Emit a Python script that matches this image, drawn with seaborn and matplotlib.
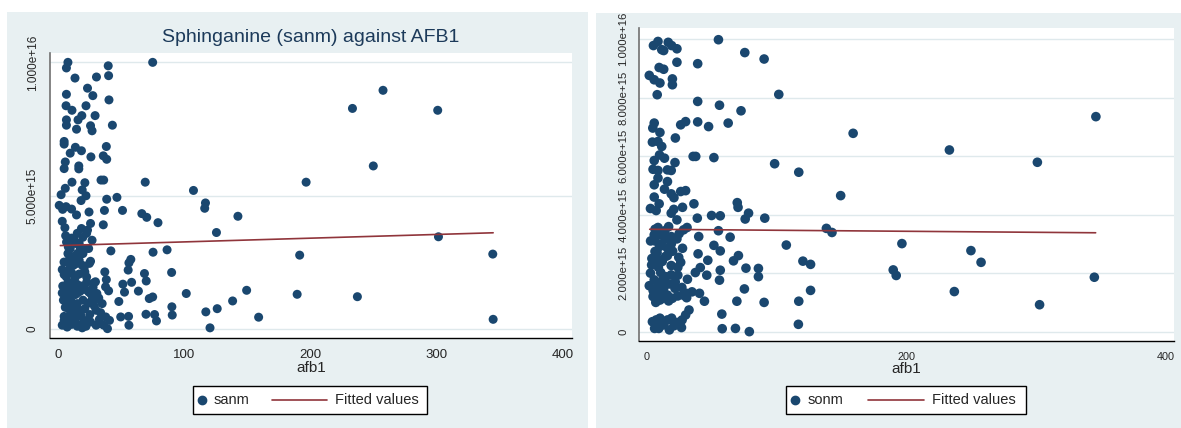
import numpy as np
import pandas as pd
import matplotlib
matplotlib.use("Agg")
import matplotlib.pyplot as plt
from matplotlib.patches import Rectangle
from matplotlib.lines import Line2D
import seaborn as sns

# ---------------- data (y in units of 1e15) ----------------
sanm_x = [75.2, 257.6, 233.4, 300.9, 249.9, 196.7, 69.3, 107.5, 117, 116.4, 142.7, 66.6, 70.5, 79.4,
          125.7, 301.5, 86.6, 75.5, 191.6, 344.5, 90.2, 68.7, 70.1, 58.5, 56.4, 57.9, 55.8, 51.6, 63.9,
          52.9, 48.4, 75.2, 72.5, 101.8, 149.6, 189.6, 237.3, 138.5, 90.4, 90.7, 126.3, 117.3, 159.1,
          344.8, 120.6, 69.9, 76.7, 78.2, 49.9, 56.1, 56.4, 46.9, 51.3, 42.1, 43.3, 40.6, 40, 40.3, 38.5,
          38.8, 36.1, 36.4, 34.3, 38.8, 37, 36.1, 30.7, 23.6, 27.8, 29.6, 22.4, 26, 27.2, 26.3, 21.5,
          22.4, 19.4, 18.5, 24.8, 26, 23.6, 27.2, 26, 28.7, 8.1, 6.9, 13.7, 6.9, 6.6, 11.3, 6.9, 6.9,
          16.1, 14.9, 19.1, 5.1, 5.1, 9.9, 14, 18.8, 6, 5.1, 16.7, 16.7, 11.3, 6, 2.7, 1.2, 3.9, 6.6, 11,
          14.9, 3.6, 5.7, 6.3, 8.4, 9, 12.8, 17, 18.8, 20, 22.4,
          3.6, 5.1, 6.9, 9.9, 11, 14, 17, 21.5, 22.9, 8.1, 12.5, 15.5, 3.6, 6.6, 9.6, 14, 17.9, 22.1, 26,
          31, 32.5, 4.5, 7.5, 11, 15.5, 20, 26, 30.7, 35.2, 8.7, 12.5, 17, 21.5, 25.4, 30.4, 5.1, 9.6, 14,
          18.5, 23, 38, 41, 3.6, 7.5, 11, 15.5, 19.4, 22.4, 30.4, 33.4, 39.4, 36.4, 14, 5.1, 12.5, 37.3,
          38.5, 37.9, 40.3, 29.9, 32, 24.5, 27.5, 17, 12.5, 8.7, 19.4, 25.1, 15.5, 14, 17.9, 9.9, 8.1,
          22.9, 19.9, 24.5, 15.5,
          4, 7, 10, 13, 16, 19, 23, 28, 6, 10, 14, 18, 24, 29, 34, 8, 12, 20, 26, 33, 5, 9, 15, 21, 11, 7]
sanm_y = [10.0, 8.95, 8.27, 8.2, 6.11, 5.5, 5.5, 5.19, 4.72, 4.52, 4.22, 4.32, 4.18, 3.98,
          3.61, 3.45, 2.96, 2.87, 2.76, 2.8, 2.11, 2.07, 1.79, 1.74, 2.47, 2.6, 2.2, 1.67, 1.41,
          1.37, 1.02, 1.19, 1.13, 1.32, 1.44, 1.29, 1.2, 1.04, 0.82, 0.51, 0.75, 0.63, 0.43,
          0.35, 0.03, 0.54, 0.53, 0.29, 0.44, 0.46, 0.13, 4.93, 4.44, 2.92, 7.64, 8.59, 9.87, 9.5, 6.84,
          6.36, 6.49, 5.58, 5.58, 4.86, 4.44, 3.9, 9.45, 9.03, 8.75, 8.0, 8.37, 7.62, 7.43, 6.45, 5.48,
          4.99, 5.21, 4.81, 4.38, 3.95, 3.7, 3.32, 2.53, 1.72, 10.0, 9.79, 9.41, 8.8, 8.37, 8.2, 7.84, 7.64,
          7.84, 7.49, 8.0, 7.03, 6.93, 6.59, 6.81, 6.68, 6.26, 6.01, 6.11, 6.0, 5.5, 5.27, 5.03, 4.63, 4.48, 4.58, 4.49,
          4.27, 4.03, 3.79, 3.49, 3.07, 2.76, 3.39, 3.2, 3.76, 2.82, 3.01,
          2.22, 2.03, 1.94, 2.32, 2.1, 1.94, 2.05, 2.13, 1.94, 1.72, 1.59, 1.66, 1.34, 1.32, 1.19, 1.28, 1.41, 1.47, 1.32,
          1.32, 1.15, 1.07, 0.94, 1.0, 0.94, 1.07, 1.0, 1.13, 0.94, 0.75, 0.63, 0.69, 0.75, 0.53, 0.69, 0.46, 0.5, 0.41,
          0.46, 0.31, 0.44, 0.31, 0.13, 0.06, 0.16, 0.09, 0.03, 0.09, 0.13, 0.19, 0.0, 0.13, 0.25, 0.31, 2.38, 2.13,
          1.84, 1.57, 1.42, 1.76, 1.13, 1.38, 1.13, 2.57, 2.7, 2.51, 2.38, 2.45, 3.58, 3.2, 3.01, 3.01, 2.82,
          3.58, 3.43, 3.01, 2.82,
          1.6, 1.5, 1.45, 1.8, 1.35, 1.6, 1.75, 1.55, 0.8, 0.7, 0.85, 0.6, 0.95, 0.85, 0.6, 0.25, 0.35, 0.2,
          0.25, 0.35, 2.5, 2.2, 2.45, 2.3, 3.4, 3.25]

sonm_x = [55.3, 75.6, 90.5, 101.8, 56.1, 72.7, 62.8, 47.7, 39.3, 39.3, 39.3, 159.1, 346.2, 233.3, 301.1,
          98.6, 117.2, 51.8, 37.8, 35.8, 149.5, 69.8, 70.4, 78.5, 75.9, 91, 50, 56.7, 39, 36.4, 138.5,
          142.8, 55.3, 64.3, 40.1, 107.6, 196.7, 249.9, 257.7, 56.7, 51.8, 39.6, 47.1, 70.7, 66.9, 120.4,
          126.3, 190, 192.3, 345, 86.1, 86.1, 76.5, 56.7, 56.1, 46.3, 41.3, 37.5, 75.3, 126.3, 237.1, 69.5,
          90.5, 117.2, 302.8, 57.9, 116.9, 58.2, 68.4, 79.1, 44.5, 40.7, 34.9, 30.8, 32.6, 30, 27.3, 26.8,
          25.6,
          5.2, 8.7, 11.6, 13.1, 16.6, 19.2, 23.3, 23.3, 9.6, 13.1, 2, 5.8, 10.2, 19.8, 19.8, 8.1, 30, 26.2,
          5.8, 4.7, 10.2, 22.1, 4.4, 8.7, 11.6, 9.9, 13.7, 5.8, 21.8, 4.9, 8.7, 16, 18.9, 8.7, 16, 5.8,
          13.7, 26.2, 30, 18.9, 5.8, 21, 9.6, 2.9, 7.3, 20.9, 27.6, 18.9, 23.3, 6.4, 8.7, 16.9, 31.1, 28.4,
          5.8, 10.8, 14.5, 18.9, 23.3, 27.6, 6.4, 9.9, 16, 6.4, 14.5, 24.7, 9.6, 3.8, 7.6, 18.9, 26.2, 2.9,
          5.8, 10.8, 14.5, 18.9, 24, 31.4, 2, 8.7, 13.1, 17.5, 21.8, 27.1, 4.9, 8.7, 12.5, 16, 19.8, 23.9,
          30.5, 10.2, 16.9, 4.4, 7.3, 10.2, 6.1, 9.3, 13.1, 17.5, 19.2, 23.3, 16,
          4, 8, 12, 16, 20, 11, 19, 24, 5, 12, 15, 22, 28, 9, 3, 14, 25, 7, 13, 21]
sonm_y = [9.98, 9.54, 9.32, 8.11, 7.74, 7.55, 7.13, 7.01, 7.87, 7.17, 9.16, 6.78, 7.35, 6.21, 5.79,
          5.74, 5.45, 5.95, 5.99, 5.99, 4.65, 4.41, 4.25, 4.05, 3.85, 3.88, 3.97, 3.96, 3.88, 4.37, 3.53,
          3.39, 3.45, 3.23, 3.25, 2.96, 3.01, 2.77, 2.37, 2.76, 2.95, 2.66, 2.44, 2.6, 2.42, 2.41,
          2.3, 2.11, 1.92, 1.86, 2.16, 1.88, 2.17, 2.1, 1.76, 1.93, 2.19, 2.02, 1.46, 1.41, 1.37, 1.04,
          1.0, 1.04, 0.92, 0.6, 0.25, 0.1, 0.11, 0.0, 1.04, 1.31, 1.36, 1.16, 0.74, 0.57, 0.4, 0.14,
          0.33,
          9.78, 9.92, 9.64, 9.61, 9.89, 9.78, 9.67, 9.21, 9.03, 8.97, 8.76, 8.61, 8.5, 8.64, 8.44, 8.1, 7.18, 7.07,
          7.13, 6.96, 6.81, 6.62, 6.48, 6.5, 6.33, 6.04, 5.93, 5.85, 5.78, 5.55, 5.51, 5.53, 5.51, 5.25, 5.13, 5.02,
          4.87, 4.79, 4.82, 4.71, 4.6, 4.58, 4.37, 4.21, 4.14, 4.18, 4.25, 4.05, 3.82, 3.5, 3.56, 3.59, 3.56, 3.48,
          3.31, 3.31, 3.16, 3.25, 3.17, 2.85, 3.1, 2.91, 2.85, 2.74, 2.57, 2.54, 2.45, 2.28, 2.31, 2.26, 2.37, 2.0,
          1.77, 2.02, 1.88, 1.94, 1.93, 1.79, 1.57, 1.6, 1.48, 1.63, 1.48, 1.51, 1.2, 1.31, 1.14, 1.25, 1.14, 1.22,
          1.31, 1.08, 1.05, 0.34, 0.4, 0.46, 0.11, 0.11, 0.23, 0.06, 0.46, 0.31, 0.4,
          2.5, 2.7, 2.4, 2.6, 2.75, 3.0, 3.0, 2.2, 1.4, 1.75, 1.25, 1.7, 1.25, 2.2, 3.1, 3.45, 3.35, 1.0, 0.3, 0.2]

fit_left_x = [2.1, 344.8]
fit_left_y = [3.12, 3.60]
fit_right_x = [2.3, 346.0]
fit_right_y = [3.50, 3.38]

left_yticks = [0, 5, 10]
left_yticklabels = ["0", "5.000e+15", "1.000e+16"]
left_xticks = [0, 100, 200, 300, 400]
right_yticks = [0, 2, 4, 6, 8, 10]
right_yticklabels = ["0", "2.000e+15", "4.000e+15", "6.000e+15", "8.000e+15", "1.000e+16"]
right_xticks = [0, 200, 400]

title_left = "Sphinganine (sanm) against AFB1"
xlabel = "afb1"
series_left = "sanm"
series_right = "sonm"
fit_label = "Fitted values"

# ---------------- style ----------------
sns.set_style("white")
plt.rcParams["font.family"] = ["Liberation Sans", "DejaVu Sans"]

NAVY = "#1a476f"
MAROON = "#90353b"
BG = "#e8f0f2"
GRID = "#dfe9ec"

W, H = 1181, 428
fig = plt.figure(figsize=(W / 100, H / 100), dpi=100)
fig.patch.set_facecolor("white")

def fx(px):
    return px / W

def fy(py):
    return 1 - py / H

# background panels (drawn beneath the axes)
for x0, x1, y0 in [(7, 588, 12), (596, 1181, 13)]:
    fig.add_artist(Rectangle((fx(x0), 0), fx(x1) - fx(x0), fy(y0), transform=fig.transFigure,
                             facecolor=BG, edgecolor="none", zorder=-10))

axL = fig.add_axes([fx(50), fy(337.7), fx(571.7) - fx(50), fy(53.3) - fy(337.7)])
axR = fig.add_axes([fx(639.3), fy(341), fx(1174) - fx(639.3), fy(28.3) - fy(341)])

def draw(ax, xs, ys, fitx, fity, xlim, ylim, yticks, ylabels, xticks, ytick_fs, xtick_fs, msize):
    df = pd.DataFrame({"x": xs, "y": np.array(ys) * 1e15})
    dfit = pd.DataFrame({"x": fitx, "y": np.array(fity) * 1e15})
    ax.set_facecolor("white")
    for yt in yticks:
        ax.axhline(yt * 1e15, color=GRID, lw=1.0, zorder=0)
    sns.scatterplot(data=df, x="x", y="y", ax=ax, color=NAVY, s=msize, linewidth=0,
                    edgecolor="none", legend=False, zorder=3)
    sns.lineplot(data=dfit, x="x", y="y", ax=ax, color=MAROON, lw=1.2, legend=False, zorder=4)
    ax.set_xlim(*xlim)
    ax.set_ylim(ylim[0] * 1e15, ylim[1] * 1e15)
    ax.set_yticks([v * 1e15 for v in yticks])
    ax.set_yticklabels(ylabels, rotation=90, va="center", fontsize=ytick_fs)
    ax.set_xticks(xticks)
    ax.set_xticklabels([str(v) for v in xticks], fontsize=xtick_fs)
    ax.set_xlabel(xlabel, fontsize=11, labelpad=0)
    ax.set_ylabel("")
    for s in ["top", "right"]:
        ax.spines[s].set_visible(False)
    ax.spines["left"].set_color("#707070")
    ax.spines["left"].set_linewidth(1.2)
    ax.spines["bottom"].set_color("#000000")
    ax.spines["bottom"].set_linewidth(1.0)
    ax.tick_params(axis="y", direction="out", length=5, width=1, color="#555555", pad=3)
    ax.tick_params(axis="x", direction="out", length=5, width=1, color="#000000", pad=3)

draw(axL, sanm_x, sanm_y, fit_left_x, fit_left_y, (-6.1, 407), (-0.34, 10.34),
     left_yticks, left_yticklabels, left_xticks, 8.5, 9.5, 42)
draw(axR, sonm_x, sonm_y, fit_right_x, fit_right_y, (-5.7, 406.4), (-0.32, 10.37),
     right_yticks, right_yticklabels, right_xticks, 8.2, 7.8, 48)

fig.text(fx(311), fy(38), title_left, ha="center", va="center", fontsize=14, color="#1c3a5a")

def legend_box(x0, x1, y0, y1, mk_x, txt1_x, ln_x0, ln_x1, txt2_x, label):
    yc = fy((y0 + y1) / 2)
    fig.add_artist(Rectangle((fx(x0), fy(y1)), fx(x1) - fx(x0), fy(y0) - fy(y1),
                             transform=fig.transFigure, facecolor="white",
                             edgecolor="black", lw=1.0, zorder=5))
    fig.add_artist(Line2D([fx(mk_x)], [yc], marker="o", ls="none", color=NAVY,
                          markersize=6, transform=fig.transFigure, zorder=6))
    fig.text(fx(txt1_x), yc, label, ha="left", va="center", fontsize=10.5, zorder=6)
    fig.add_artist(Line2D([fx(ln_x0), fx(ln_x1)], [yc, yc], color=MAROON, lw=1.2,
                          transform=fig.transFigure, zorder=6))
    fig.text(fx(txt2_x), yc, fit_label, ha="left", va="center", fontsize=10.5, zorder=6)

legend_box(192.7, 426.7, 386, 414.3, 202, 214, 272, 327, 335, series_left)
legend_box(786, 1026, 386, 413.5, 795.4, 808, 868, 924, 932, series_right)

fig.savefig("out.png", dpi=100, facecolor=fig.get_facecolor())
